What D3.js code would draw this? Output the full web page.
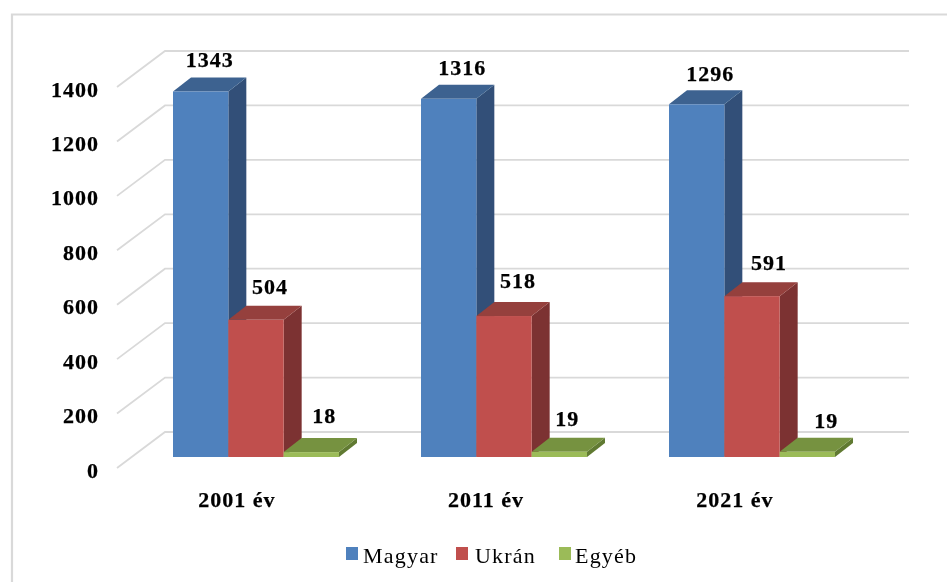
<!DOCTYPE html>
<html><head><meta charset="utf-8">
<script src="https://cdn.jsdelivr.net/npm/d3@7"></script>
<style>html,body{margin:0;padding:0;background:#fff}svg{display:block}text{font-family:"Liberation Serif",serif;fill:#000}</style>
</head><body><div id="c"></div>
<script>
const categories = ["2001 év","2011 év","2021 év"];
const seriesNames = ["Magyar","Ukrán","Egyéb"];
const magyar = [1343,1316,1296];
const ukran = [504,518,591];
const egyeb = [18,19,19];
const yTicks = [0,200,400,600,800,1000,1200,1400];
const colors = {Magyar:["#4f81bd","#3c6290","#305078"],Ukrán:["#c0504d","#953f3c","#7c3230"],Egyéb:["#9bbb59","#76923f","#617a33"]};
const seriesValues = [magyar,ukran,egyeb];

const W=947,H=582;
const svg=d3.select("#c").append("svg").attr("width",W).attr("height",H);
const defs=svg.append("defs");
defs.append("filter").attr("id","soft").attr("x",0).attr("y",0).attr("width",1).attr("height",1)
  .attr("filterUnits","userSpaceOnUse").attr("width",W).attr("height",H)
  .append("feGaussianBlur").attr("stdDeviation",0.5);
const root=svg.append("g").attr("filter","url(#soft)");

const y=d3.scaleLinear().domain([0,1400]).range([457,76]);
const x0=d3.scaleBand().domain(categories).range([132,876]);
const x1=d3.scaleBand().domain(seriesNames).range([41,207]);
const barD={x:18,y:-14};
const wall={x:33,y:-25}, front={x:-15,y:11};
// small hand placement offsets of the value labels, [series][category]
const labelDx=[[-3,1.5,1.5],[2,2,5],[1,-4,7]];
const labelDy=[[0.7,1.4,2],[1.2,-1,1],[-2,1.2,3]];

const boldText=s=>s.attr("font-size",22).attr("font-weight","bold").attr("letter-spacing",1)
  .attr("stroke","#000").attr("stroke-width",0.25);

root.append("path").attr("d",`M947 14.5H12V582`).attr("fill","none").attr("stroke","#d9d9d9").attr("stroke-width",2.2);

const floorX=x0.range()[0];
const grid=root.append("g").attr("fill","none").attr("stroke","#d9d9d9").attr("stroke-width",1.8);
yTicks.forEach(t=>{
  const yy=y(t);
  grid.append("path").attr("d",`M${floorX+front.x} ${yy+front.y}L${floorX+wall.x} ${yy+wall.y}H${x0.range()[1]+wall.x}`);
});

yTicks.forEach(t=>{
  root.append("text").attr("x",99).attr("y",y(t)+front.y+9.5).attr("text-anchor","end").call(boldText).text(t);
});

categories.forEach((c,ci)=>{
  seriesNames.forEach((s,si)=>{
    const v=seriesValues[si][ci];
    const bx=x0(c)+x1(s), bw=x1.bandwidth(), top=y(v), bot=y(0);
    const col=colors[s];
    const g=root.append("g");
    g.append("path").attr("fill",col[2]).attr("d",`M${bx+bw} ${top}l${barD.x} ${barD.y}V${bot+barD.y}l${-barD.x} ${-barD.y}Z`);
    g.append("path").attr("fill",col[1]).attr("d",`M${bx} ${top}l${barD.x} ${barD.y}h${bw}l${-barD.x} ${-barD.y}Z`);
    g.append("rect").attr("x",bx).attr("y",top).attr("width",bw).attr("height",bot-top).attr("fill",col[0]);
  });
});
const catDx=[-19,-18,-17];
categories.forEach((c,ci)=>{
  seriesNames.forEach((s,si)=>{
    const v=seriesValues[si][ci];
    root.append("text").attr("x",x0(c)+x1(s)+x1.bandwidth()/2+12+labelDx[si][ci])
      .attr("y",y(v)+barD.y-(si===0?11:13)+labelDy[si][ci])
      .attr("text-anchor","middle").call(boldText).text(v);
  });
  root.append("text").attr("x",x0(c)+x0.bandwidth()/2+catDx[ci]).attr("y",506.5).attr("text-anchor","middle")
    .call(boldText).text(c);
});

const legendX=[346,456,559], textX=[363,475,575];
seriesNames.forEach((s,i)=>{
  root.append("rect").attr("x",legendX[i]).attr("y",547).attr("width",12).attr("height",13).attr("fill",colors[s][0]);
  root.append("text").attr("x",textX[i]).attr("y",563).attr("font-size",22).attr("letter-spacing",1.2).text(s);
});
</script></body></html>
